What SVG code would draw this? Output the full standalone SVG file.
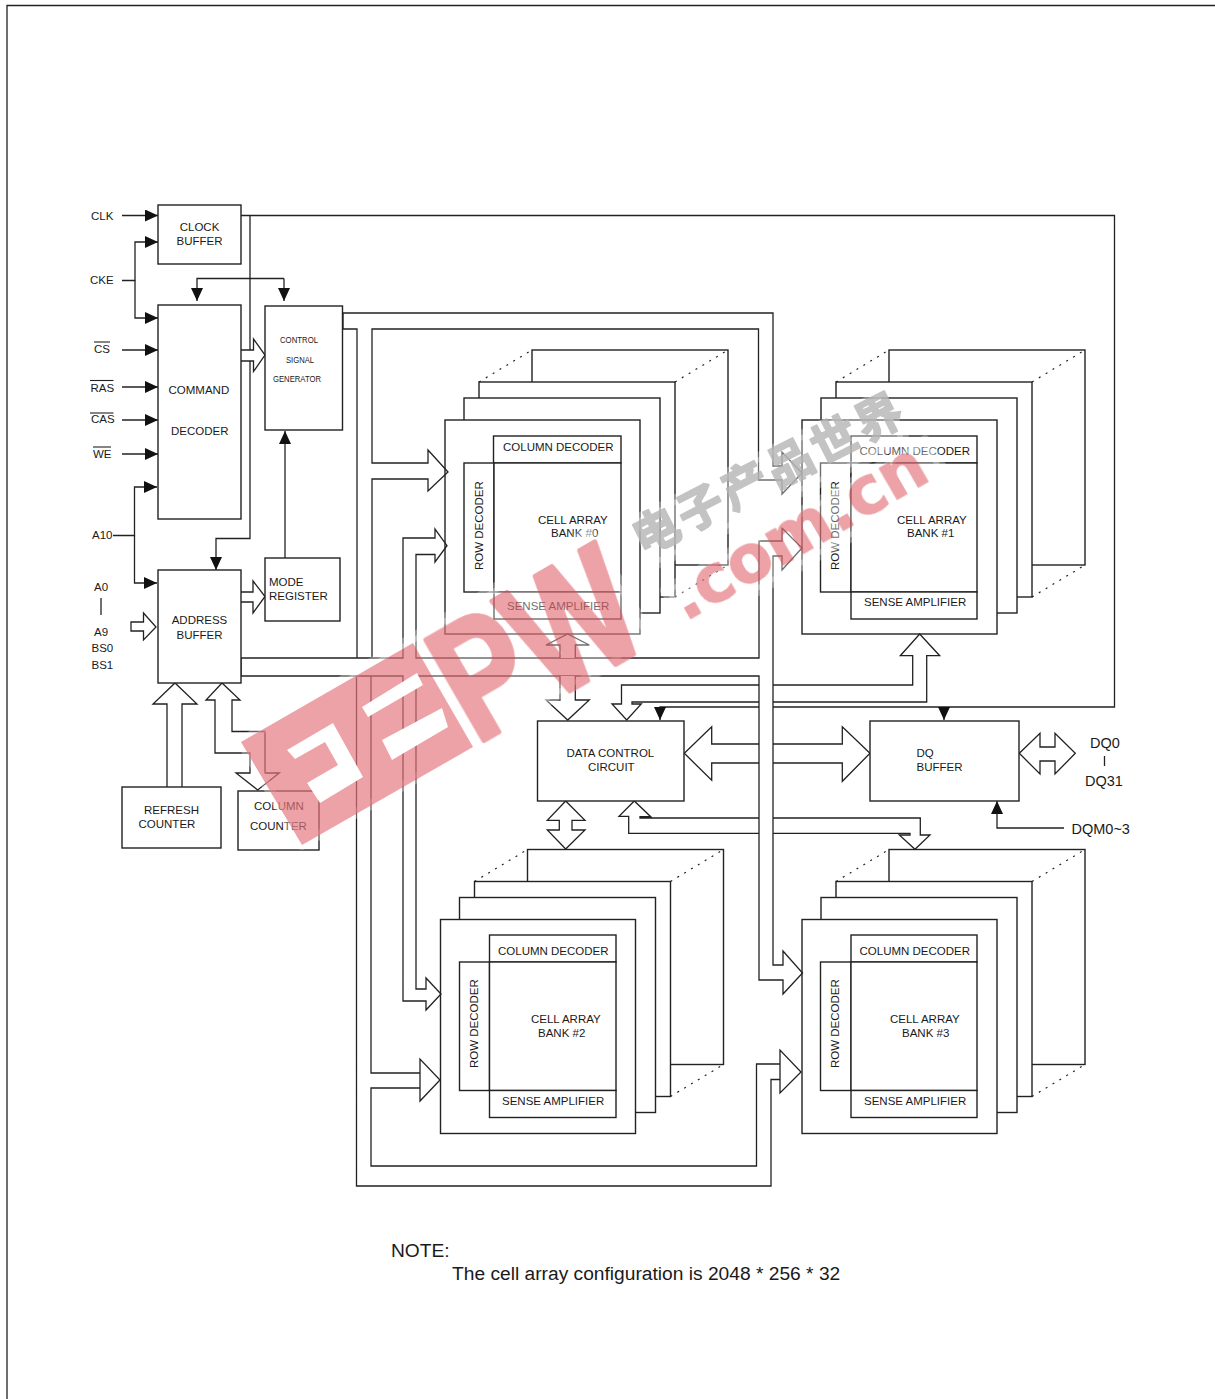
<svg xmlns="http://www.w3.org/2000/svg" width="1215" height="1399" viewBox="0 0 1215 1399">
<style>
text{font-family:"Liberation Sans",Arial,sans-serif;font-size:11.5px;fill:#1a1a1a}
.big{font-size:14.5px}.note{font-size:19.2px}
rect{fill:#fff;stroke:#222;stroke-width:1.4}
.c path,.page{fill:none;stroke:#222;stroke-width:1.3}
.c path.h{fill:#fff}
.c path.a{marker-end:url(#ah)}
.dot{fill:none;stroke:#222;stroke-width:1.2;stroke-dasharray:2 6}
.ov{stroke:#222;stroke-width:1.1;fill:none}
.tiny{font-size:9.5px}
.halo{fill:#fff;fill-opacity:.35;stroke:#fff;stroke-opacity:.3;stroke-width:10px;stroke-linejoin:round}
.red{opacity:.5}
.red path,.red text{fill:#d9444c;stroke:#d9444c;stroke-linejoin:round;font-weight:bold}
.slit{fill:#fff}
.grey{opacity:.8}
.grey text{fill:#b5b5b5;stroke:#b5b5b5;stroke-width:2px;stroke-linejoin:round;font-weight:bold}
</style>
<defs>
<marker id="ah" viewBox="0 0 13 12" refX="13" refY="6" markerWidth="13" markerHeight="12" markerUnits="userSpaceOnUse" orient="auto"><path d="M0 0L13 6L0 12Z" fill="#111"/></marker>
<g id="stack">
<rect x="87" y="-70" width="196" height="215"/>
<rect x="34" y="-38" width="196" height="215"/>
<rect x="19" y="-22" width="196" height="215"/>
<rect x="0" y="0" width="195" height="214"/>
<path class="dot" d="M34 -38L87 -70M230 -38L283 -70M230 177L283 145"/>
</g>
</defs>
<rect width="1215" height="1399" style="fill:#fff;stroke:none"/>
<path class="page" d="M7 1399V5.500H1215"/>

<g id="bank0"><use href="#stack" x="445" y="420"/>
<rect x="493.500" y="436" width="127.500" height="27"/><rect x="464" y="463" width="30" height="129"/><rect x="494" y="463" width="127" height="129"/><rect x="494" y="592" width="127" height="27"/>
<text x="503" y="451">COLUMN DECODER</text><text transform="translate(482.500 570) rotate(-90)">ROW DECODER</text><text x="538" y="524">CELL ARRAY</text><text x="551" y="537">BANK #0</text><text x="507" y="610">SENSE AMPLIFIER</text></g>
<g id="bank1"><use href="#stack" x="802" y="420"/>
<rect x="851" y="436" width="126" height="27"/><rect x="820.500" y="463" width="30.500" height="129"/><rect x="851" y="463" width="126" height="129"/><rect x="851" y="592" width="126" height="27"/>
<text x="859.500" y="455">COLUMN DECODER</text><text transform="translate(839 570) rotate(-90)">ROW DECODER</text><text x="897" y="524">CELL ARRAY</text><text x="907" y="537">BANK #1</text><text x="864" y="606">SENSE AMPLIFIER</text></g>
<g id="bank2"><use href="#stack" x="440.500" y="919.500"/>
<rect x="489.500" y="935" width="126.500" height="27"/><rect x="459.500" y="962" width="30" height="128.500"/><rect x="489.500" y="962" width="126.500" height="128.500"/><rect x="489.500" y="1090.500" width="126.500" height="27"/>
<text x="498" y="955">COLUMN DECODER</text><text transform="translate(478 1068) rotate(-90)">ROW DECODER</text><text x="531" y="1023">CELL ARRAY</text><text x="538" y="1037">BANK #2</text><text x="502" y="1105">SENSE AMPLIFIER</text></g>
<g id="bank3"><use href="#stack" x="802" y="919.500"/>
<rect x="851" y="935" width="126" height="27"/><rect x="820.500" y="962" width="30.500" height="128.500"/><rect x="851" y="962" width="126" height="128.500"/><rect x="851" y="1090.500" width="126" height="27"/>
<text x="859.500" y="955">COLUMN DECODER</text><text transform="translate(839 1068) rotate(-90)">ROW DECODER</text><text x="890" y="1023">CELL ARRAY</text><text x="902" y="1037">BANK #3</text><text x="864" y="1105">SENSE AMPLIFIER</text></g>

<g id="connectors" class="c">
<path class="a" d="M122 215.500H158"/>
<path class="a" d="M122 280.500H135V242H158"/>
<path class="a" d="M135 280.500V318H158"/>
<path class="a" d="M122 350H158"/><path class="a" d="M122 387H158"/><path class="a" d="M122 420H158"/><path class="a" d="M122 454H158"/>
<path class="a" d="M113 535.500H134.500V487H157"/>
<path class="a" d="M134.500 535.500V583H157"/>
<path d="M241 215.500H1114.500V707H773"/>
<path class="a" d="M759 707H660V720"/>
<path class="a" d="M944 707V720"/>
<path class="a" d="M250 215.500V538.500H216V570"/>
<path class="a" d="M284 278.500H197V301"/>
<path class="a" d="M284 278.500V301"/>
<path class="a" d="M285 558V431"/>
<path class="a" d="M1064 828H997V801"/>
<path d="M101 598V615"/><path d="M1104.500 756V766"/>
<path d="M343 313V329"/>
<path d="M343 313H773V466H782V452L802 473L782 494V480H758.500V329H372V463H428V450L448 472L428 491V479H372V658"/>
<path d="M343 329H357V658"/>
<path d="M241 658H403V538H435V529L447 545.700L435 562V554.500H416V658H759V541H782V528L802 548L782 570V556H773V965H783V951L802.500 973L783 994V980H759V676H416V989H426V978L441 994L426 1010V1001H403V676H241V658"/>
<path d="M356.500 676V1186H771V1079.500H780V1050L801 1072L780 1093V1064H756.500V1166H371V1088H420V1059L440 1080L420 1101V1073H371V676"/>
<path class="h" d="M560 658V645H546L567.700 634L589.300 645H575.300V658"/>
<path class="h" d="M560 676V700H546L567.700 720L589.300 700H575.300V676"/>
<path d="M759 685H621.500V704H612L626.700 720L641.300 704H632V702H759"/>
<path d="M773 685H912.700V655.700H900.300L919.700 634L939.700 655.700H926.700V702H773"/>
<path d="M759 744H711.700V726.700L684.300 753.300L711.700 780.300V763H759"/>
<path d="M773 744H842.300V726.700L870 753.300L842.300 781.300V763H773"/>
<path d="M759 818H640V816.700H650.700L634.300 801L619 816.300H628.700V833.300H759"/>
<path d="M773 818H920.300V835H930L915 849.300L899.300 835H910V833.300H773"/>
<path class="h" d="M559.300 820.300H547.300L565.700 801L585 820.300H572V830H585L565.700 849L547.300 830H559.300Z"/>
<path class="h" d="M1019.300 753.300L1040 733.300V747H1055V733.300L1075.300 753.300L1055 774V761H1040V774Z"/>
<path class="h" d="M167 787V704H153L175 683L197 704H182V787"/>
<path class="h" d="M215 700H206L222 683L240 700H232V731.500H265V773H279.300L257.700 790L236 773H250V753H215Z"/>
<path class="h" d="M131 622H143.500V613L156 627L143.500 640V631H131Z"/>
<path class="h" d="M241 350H253.500V339L265 355L253.500 371.500V361H241"/>
<path class="h" d="M241 592H253V581L265 596.500L253 613V602H241"/>
</g>

<g id="clock-buffer"><rect x="158" y="205" width="83" height="59"/><text x="199.500" y="231" text-anchor="middle">CLOCK</text><text x="199.500" y="245" text-anchor="middle">BUFFER</text></g>
<g id="command-decoder"><rect x="158" y="305" width="83" height="214"/><text x="168.500" y="394">COMMAND</text><text x="171" y="435">DECODER</text></g>
<g id="control-signal-generator"><rect x="265" y="306" width="77.500" height="124"/><text class="tiny" x="280" y="343" textLength="38" lengthAdjust="spacingAndGlyphs">CONTROL</text><text class="tiny" x="286" y="363" textLength="28" lengthAdjust="spacingAndGlyphs">SIGNAL</text><text class="tiny" x="273" y="382" textLength="48" lengthAdjust="spacingAndGlyphs">GENERATOR</text></g>
<g id="mode-register"><rect x="265" y="558" width="75" height="63"/><text x="269" y="586">MODE</text><text x="269" y="600">REGISTER</text></g>
<g id="address-buffer"><rect x="158" y="570" width="83" height="113"/><text x="199.500" y="624" text-anchor="middle">ADDRESS</text><text x="199.500" y="639" text-anchor="middle">BUFFER</text></g>
<g id="refresh-counter"><rect x="122" y="787" width="99" height="61"/><text x="144" y="814">REFRESH</text><text x="138.500" y="828">COUNTER</text></g>
<g id="column-counter"><rect x="238" y="791" width="81" height="59"/><text x="254" y="810">COLUMN</text><text x="250" y="830">COUNTER</text></g>
<g id="data-control"><rect x="537.500" y="721" width="146.500" height="80"/><text x="566.500" y="757">DATA CONTROL</text><text x="588" y="771">CIRCUIT</text></g>
<g id="dq-buffer"><rect x="870" y="721" width="149" height="80"/><text x="916.500" y="757">DQ</text><text x="916.500" y="771">BUFFER</text></g>

<g id="signals">
<text x="91" y="220">CLK</text><text x="90" y="284">CKE</text>
<text x="94" y="353">CS</text><path class="ov" d="M94 342H110"/>
<text x="90.500" y="391.500">RAS</text><path class="ov" d="M90 380.500H113.500"/>
<text x="91" y="423">CAS</text><path class="ov" d="M90 413H113.500"/>
<text x="93" y="458">WE</text><path class="ov" d="M93 447H111"/>
<text x="92" y="539">A10</text><text x="94" y="591">A0</text><text x="94" y="636">A9</text><text x="91.500" y="652">BS0</text><text x="91.500" y="669">BS1</text>
<text class="big" x="1090" y="748">DQ0</text><text class="big" x="1085" y="786">DQ31</text><text class="big" x="1071.500" y="834">DQM0~3</text>
</g>
<g id="note"><text class="note" x="391" y="1257">NOTE:</text><text class="note" x="452" y="1280">The cell array configuration is 2048 * 256 * 32</text></g>

<g id="watermark">
<path class="halo" d="M241 742L590 530L652 640L302 845Z"/>
<path class="halo" d="M665 590L925 440L950 480L690 630Z"/>
<path class="halo" d="M635 520L880 395L905 440L655 565Z"/>
<g class="red">
<path d="M241 742L413 643L473 747L302 845Z" style="stroke:none"/>
<text transform="translate(476 745) rotate(-30)" style="font-size:168px;stroke-width:5px" textLength="205" lengthAdjust="spacingAndGlyphs">PW</text>
<text transform="translate(685 622) rotate(-30)" style="font-family:'DejaVu Sans',sans-serif;font-size:66px;stroke-width:1px" textLength="286" lengthAdjust="spacingAndGlyphs">.com.cn</text>
</g>
<path class="slit" d="M287 750L333 723L363 777L320 803L307 783L338 765L325 742L295 759ZM362 707L417 673L423 685L368 717ZM382 740L442 708L448 727L392 760Z"/>
<g class="grey"><text transform="translate(643 556) rotate(-27)" style="font-family:'Noto Sans CJK SC',sans-serif;font-size:46px;letter-spacing:4px">电子产品世界</text></g>
</g>
</svg>
